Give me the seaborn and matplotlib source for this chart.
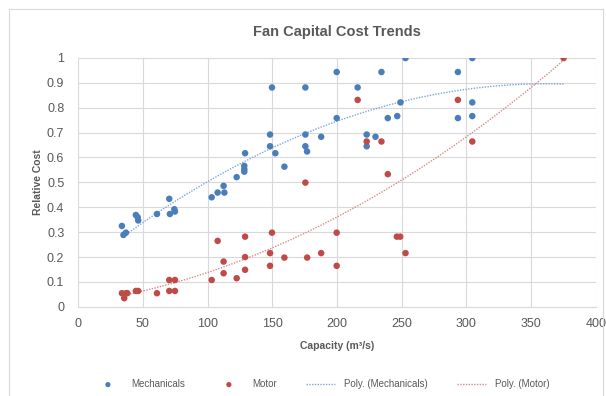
import numpy as np
import pandas as pd
import matplotlib
matplotlib.use('Agg')
import matplotlib.pyplot as plt
import seaborn as sns

# Mechanicals series (capacity m3/s, relative cost)
mech_x = [33.8, 35, 36.9, 44.6, 46, 46.4, 60.9, 70.4, 70.9, 74.3, 74.8,
          103.2, 107.8, 112.4, 113, 122.5, 128.4, 128.4, 128.4, 129,
          148.3, 148.3, 149.8, 152.4, 159.4, 175.6, 175.6, 175.6, 176.9,
          187.8, 199.8, 199.8, 216, 223, 223, 229.8, 234.4, 239.3, 246.6,
          249.1, 253, 293.5, 293.5, 304.6, 304.6, 304.6]
mech_y = [0.325, 0.289, 0.298, 0.369, 0.36, 0.347, 0.373, 0.434, 0.373, 0.392, 0.383,
          0.44, 0.459, 0.486, 0.459, 0.521, 0.566, 0.553, 0.543, 0.617,
          0.692, 0.645, 0.881, 0.617, 0.563, 0.881, 0.692, 0.645, 0.624,
          0.683, 0.943, 0.758, 0.881, 0.692, 0.645, 0.683, 0.943, 0.758, 0.766,
          0.821, 0.999, 0.943, 0.758, 0.999, 0.821, 0.766]

# Motor series
motor_x = [33.8, 35.6, 37, 38, 44.6, 46.4, 60.9, 70.4, 74.8, 70.4, 74.8,
           103.2, 107.8, 112.4, 112.4, 122.5, 129, 129, 129,
           148.3, 148.3, 149.8, 159.4, 175.6, 177, 187.8, 199.8, 199.8,
           216, 223, 234.4, 239.3, 246.3, 248.9, 253, 293.5, 304.6, 375.2]
motor_y = [0.055, 0.035, 0.055, 0.055, 0.064, 0.064, 0.055, 0.108, 0.108, 0.064, 0.064,
           0.108, 0.265, 0.182, 0.135, 0.115, 0.282, 0.2, 0.149,
           0.216, 0.165, 0.298, 0.198, 0.499, 0.198, 0.216, 0.298, 0.165,
           0.831, 0.664, 0.664, 0.533, 0.282, 0.282, 0.216, 0.831, 0.664, 0.999]

x_ticks = [0, 50, 100, 150, 200, 250, 300, 350, 400]
y_ticks = [0, 0.1, 0.2, 0.3, 0.4, 0.5, 0.6, 0.7, 0.8, 0.9, 1]

blue = "#4a7ebb"
red = "#be4b48"
grey = "#595959"

sns.set_style("white")
plt.rcParams['font.family'] = ['Liberation Sans', 'DejaVu Sans']

fig = plt.figure(figsize=(6.06, 3.96), dpi=100)
ax = fig.add_axes([0.129, 0.225, 0.854, 0.629])

# Polynomial (order 2) trendlines, like Excel
x_line = np.linspace(min(mech_x + motor_x), max(mech_x + motor_x), 200)
mech_fit = np.polyval(np.polyfit(mech_x, mech_y, 2), x_line)
motor_fit = np.polyval(np.polyfit(motor_x, motor_y, 2), x_line)

sns.lineplot(x=x_line, y=mech_fit, color="#7fa6d6", linestyle=(0, (1, 1)),
             linewidth=1.0, ax=ax, label="Poly. (Mechanicals)", zorder=2)
sns.lineplot(x=x_line, y=motor_fit, color="#d98a88", linestyle=(0, (1, 1)),
             linewidth=1.0, ax=ax, label="Poly. (Motor)", zorder=2)
sns.scatterplot(x=mech_x, y=mech_y, color=blue, s=22, edgecolor="none",
                ax=ax, label="Mechanicals", zorder=3)
sns.scatterplot(x=motor_x, y=motor_y, color=red, s=22, edgecolor="none",
                ax=ax, label="Motor", zorder=3)

ax.set_xlim(0, 400)
ax.set_ylim(0, 1)
ax.set_xticks(x_ticks)
ax.set_yticks(y_ticks)
ax.set_yticklabels([f"{t:g}" for t in y_ticks])
ax.grid(True, color="#d9d9d9", linewidth=0.8)
ax.set_axisbelow(True)
for s in ["top", "right", "left"]:
    ax.spines[s].set_visible(False)
ax.spines["bottom"].set_color("#d9d9d9")
ax.tick_params(axis="both", labelsize=9, colors=grey, length=0)
ax.tick_params(axis="x", pad=8)
ax.tick_params(axis="y", pad=10)

ax.set_title("Fan Capital Cost Trends", fontsize=10.5, fontweight="bold",
             color=grey, pad=16)
ax.set_xlabel("Capacity (m³/s)", fontsize=7.5, fontweight="bold", color=grey, labelpad=8)
ax.set_ylabel("Relative Cost", fontsize=7.5, fontweight="bold", color=grey, labelpad=3)

handles, labels = ax.get_legend_handles_labels()
order = [labels.index(l) for l in ["Mechanicals", "Motor", "Poly. (Mechanicals)", "Poly. (Motor)"]]
leg = ax.legend([handles[i] for i in order], [labels[i] for i in order],
                loc="upper center", bbox_to_anchor=(0.47, -0.255), ncol=4,
                frameon=False, fontsize=7, handlelength=3.0, columnspacing=3.0,
                handletextpad=0.9, markerscale=0.8)
for t in leg.get_texts():
    t.set_color(grey)

# chart border
fig.patches.append(plt.Rectangle((9 / 606, -0.01), 594 / 606, 1 - 9 / 396 + 0.01,
                                 transform=fig.transFigure, fill=False,
                                 edgecolor="#d9d9d9", linewidth=0.8))

plt.savefig("out.png", dpi=100)
plt.close()
